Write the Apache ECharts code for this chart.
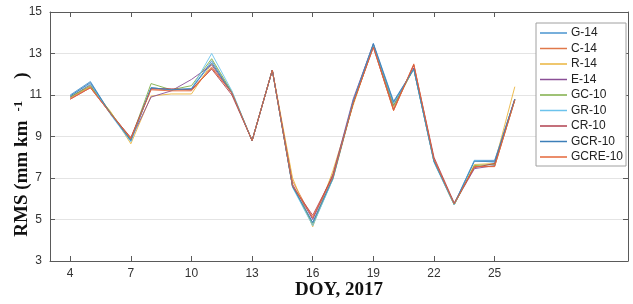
<!DOCTYPE html>
<html><head><meta charset="utf-8">
<script src="https://cdn.jsdelivr.net/npm/echarts@6/dist/echarts.min.js"></script>
<style>html,body{margin:0;padding:0;background:#fff}#c{width:633px;height:304px}</style>
</head><body><div id="c"></div>
<script>
const days = [4,5,6,7,8,9,10,11,12,13,14,15,16,17,18,19,20,21,22,23,24,25,26];
const xTicks = [4,7,10,13,16,19,22,25];
const seriesNames = ['G-14','C-14','R-14','E-14','GC-10','GR-10','CR-10','GCR-10','GCRE-10'];
const G14    = [11.0,11.65,10.1,8.8,11.35,11.25,11.3,12.65,11.1,8.8,12.2,6.6,4.85,7.0,10.7,13.5,10.7,12.25,7.8,5.75,7.85,7.85,10.8];
const C14    = [10.85,11.4,10.15,8.9,11.3,11.25,11.25,12.35,11.1,8.8,12.2,6.85,5.05,7.2,10.6,13.35,10.25,12.45,7.85,5.75,7.55,7.55,10.75];
const R14    = [10.9,11.4,10.2,8.65,10.95,11.05,11.05,12.5,11.15,8.8,12.2,7.0,4.65,7.35,10.5,13.4,10.4,12.3,7.8,5.7,7.65,7.7,11.4];
const E14    = [10.9,11.5,10.1,8.85,10.9,11.2,11.75,12.45,11.1,8.8,12.2,6.7,5.0,7.15,10.8,13.45,10.5,12.3,7.9,5.75,7.45,7.6,10.8];
const GC10   = [10.9,11.45,10.15,8.85,11.55,11.25,11.45,12.75,11.15,8.8,12.2,6.6,4.75,6.95,10.6,13.4,10.5,12.25,7.8,5.7,7.6,7.65,10.75];
const GR10   = [10.95,11.55,10.05,8.75,11.35,11.25,11.3,13.0,11.2,8.8,12.2,6.55,4.7,6.95,10.7,13.4,10.6,12.25,7.75,5.7,7.85,7.75,10.8];
const CR10   = [10.8,11.35,10.1,8.95,11.3,11.3,11.25,12.25,11.0,8.8,12.2,6.6,5.2,7.1,10.6,13.3,10.3,12.45,8.0,5.8,7.5,7.7,10.8];
const GCR10  = [10.95,11.6,10.1,8.8,11.35,11.25,11.3,12.55,11.1,8.8,12.2,6.6,4.85,7.0,10.7,13.45,10.65,12.25,7.8,5.75,7.8,7.8,10.8];
const GCRE10 = [10.8,11.35,10.1,8.9,11.25,11.2,11.2,12.3,11.1,8.8,12.2,6.65,5.1,7.05,10.6,13.3,10.25,12.5,7.9,5.75,7.55,7.55,10.75];
const allValues = [G14,C14,R14,E14,GC10,GR10,CR10,GCR10,GCRE10];
const colors = ['#4a95cf','#e0784a','#eab53e','#8a4f96','#7fae48','#6cc3ec','#b0404f','#3d7fb8','#e5673a'];

const axisCol = '#5a5a5a';
const serif = 'Liberation Serif';
const chart = echarts.init(document.getElementById('c'));
const xMin = 3, xMax = 31.6;
chart.setOption({
  animation: false,
  backgroundColor: '#fff',
  color: colors,
  grid: {left: 50, right: 5, top: 12, bottom: 43, containLabel: false, outerBoundsMode: 'none'},
  legend: {
    orient: 'vertical', left: 536, top: 23,
    icon: 'rect', itemWidth: 27, itemHeight: 1.5, itemGap: 1.5,
    padding: [3, 3, 2, 4],
    backgroundColor: '#fff', borderColor: '#a0a0a0', borderWidth: 1, borderRadius: 0,
    textStyle: {fontFamily: 'Liberation Sans', fontSize: 12, lineHeight: 14, color: '#222', padding: [0,0,0,-1]},
    data: seriesNames
  },
  xAxis: [{
    type: 'value', min: xMin, max: xMax,
    name: 'DOY, 2017', nameLocation: 'middle', nameGap: 20, nameMoveOverlap: false,
    nameTextStyle: {fontFamily: serif, fontWeight: 'bold', fontSize: 19, color: '#111'},
    axisLine: {show: true, lineStyle: {color: axisCol}},
    axisTick: {show: true, inside: true, length: 5, customValues: xTicks, lineStyle: {color: axisCol}},
    axisLabel: {customValues: xTicks, fontFamily: 'Liberation Sans', fontSize: 12, color: '#333', margin: 7},
    splitLine: {show: false}
  }, {
    type: 'value', min: xMin, max: xMax, position: 'top',
    axisLine: {show: true, onZero: false, lineStyle: {color: axisCol}},
    axisTick: {show: true, inside: true, length: 5, customValues: xTicks, lineStyle: {color: axisCol}},
    axisLabel: {show: false}, splitLine: {show: false}
  }],
  yAxis: [{
    type: 'value', min: 3, max: 15, interval: 2,
    name: '{a|RMS (mm km}{s|-1}{b|)}', nameLocation: 'middle', nameGap: 17, nameRotate: 90, nameMoveOverlap: false,
    nameTextStyle: {rich: {
      a: {fontFamily: serif, fontWeight: 'bold', fontSize: 19, color: '#111'},
      s: {fontFamily: serif, fontWeight: 'bold', fontSize: 13, color: '#111', padding: [0,0,8,9]},
      b: {fontFamily: serif, fontWeight: 'bold', fontSize: 19, color: '#111', padding: [0,36,0,22]}
    }},
    axisLine: {show: true, lineStyle: {color: axisCol}},
    axisTick: {show: true, inside: true, length: 5, lineStyle: {color: axisCol}},
    axisLabel: {fontFamily: 'Liberation Sans', fontSize: 12, color: '#333', margin: 8},
    splitLine: {show: true, lineStyle: {color: '#e4e4e4', width: 1}}
  }, {
    type: 'value', min: 3, max: 15, interval: 2, position: 'right',
    axisLine: {show: true, onZero: false, lineStyle: {color: axisCol}},
    axisTick: {show: true, inside: true, length: 5, lineStyle: {color: axisCol}},
    axisLabel: {show: false}, splitLine: {show: false}
  }],
  series: seriesNames.map((n, i) => ({
    name: n, type: 'line', xAxisIndex: 0, yAxisIndex: 0,
    data: days.map((d, j) => [d, allValues[i][j]]),
    showSymbol: false, symbol: 'none',
    lineStyle: {width: 1, opacity: 0.9},
    emphasis: {disabled: true}
  }))
});
</script></body></html>
